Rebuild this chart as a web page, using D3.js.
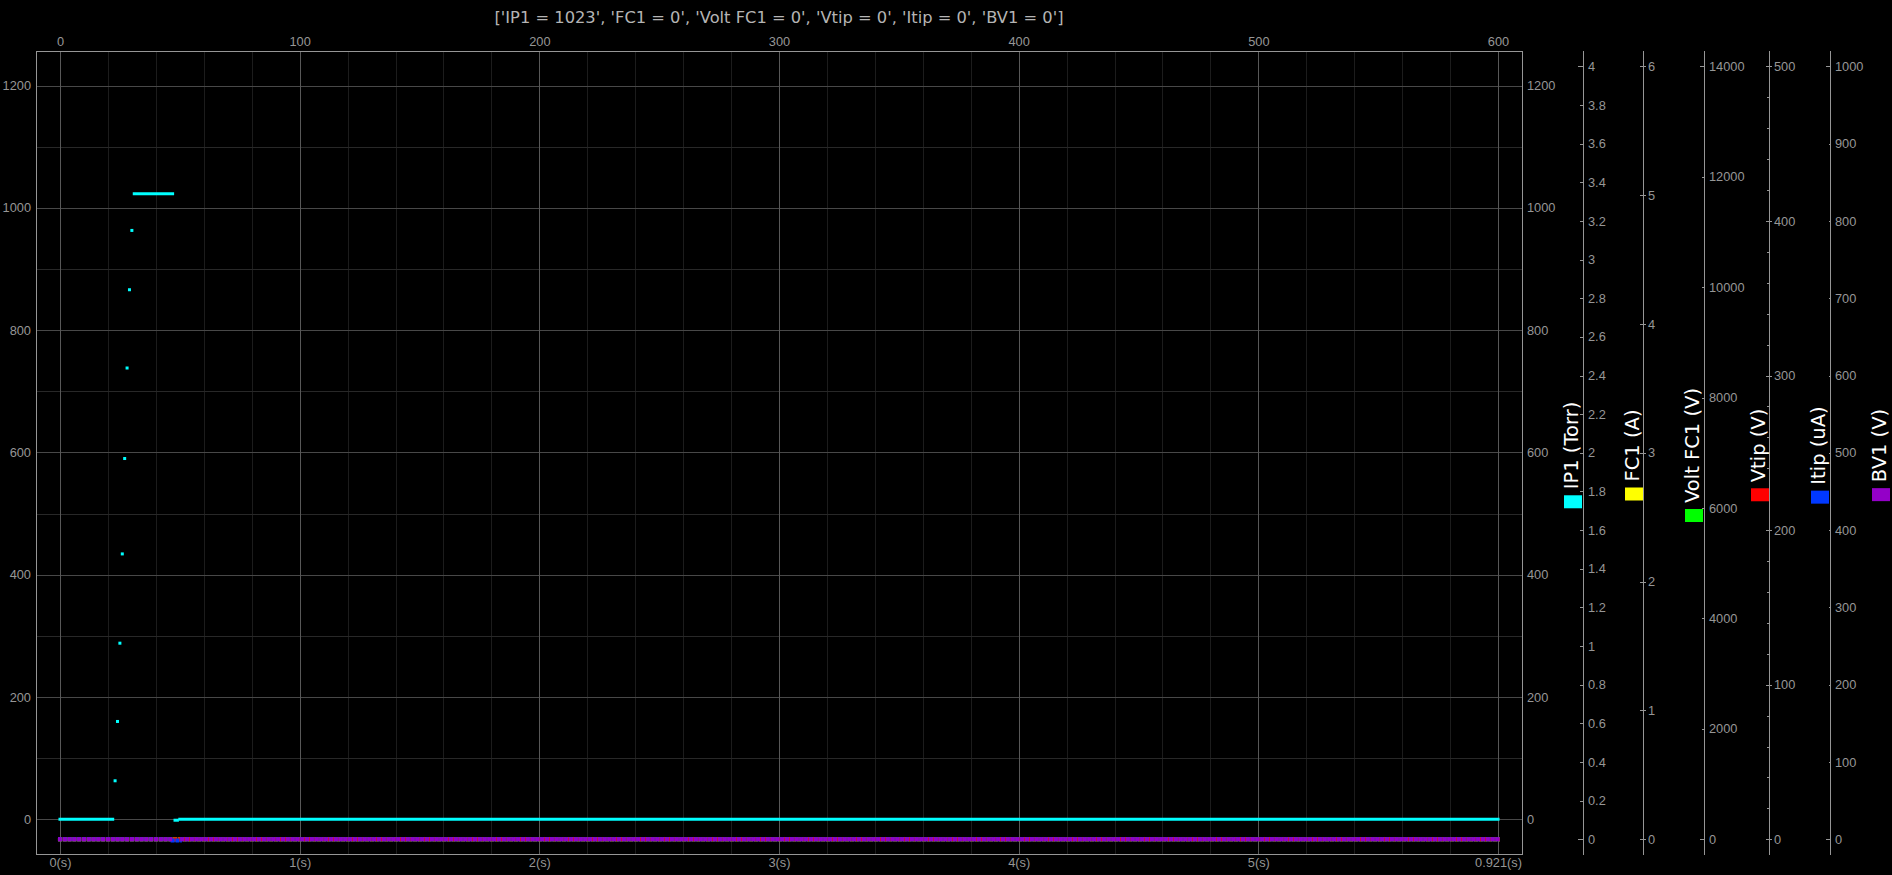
<!DOCTYPE html>
<html><head><meta charset="utf-8">
<script src="https://cdn.jsdelivr.net/npm/d3@7"></script>
<style>
html,body{margin:0;padding:0;background:#000;overflow:hidden}
svg{display:block}
</style></head><body>
<svg id="chart" width="1892" height="875"></svg>
<script>
// ---------------- data ----------------
const titleText = "['IP1 = 1023', 'FC1 = 0', 'Volt FC1 = 0', 'Vtip = 0', 'Itip = 0', 'BV1 = 0']";
const xTopTicks = [0, 100, 200, 300, 400, 500, 600];
const xBottomLabels = ["0(s)", "1(s)", "2(s)", "3(s)", "4(s)", "5(s)", "0.921(s)"];
const leftTicks = [0, 200, 400, 600, 800, 1000, 1200];

const seriesNames = ["IP1 (Torr)", "FC1 (A)", "Volt FC1 (V)", "Vtip (V)", "Itip (uA)", "BV1 (V)"];
const seriesColors = ["#00ffff", "#ffff00", "#00ff00", "#ff0000", "#0038ff", "#9400c8"];

// IP1: flat runs of samples (sample index from..to, value) and isolated samples
const ip1Runs = [
  {from: 0, to: 22, value: 0},
  {from: 31, to: 47, value: 1023},
  {from: 48, to: 49, value: -1.5},
  {from: 50, to: 600, value: 0}
];
const ip1PointX = [23, 24, 25, 26, 27, 28, 29, 30];
const ip1PointY = [63, 160, 288, 434, 590, 738, 866, 963];

const fc1Runs  = [{from: 0, to: 600, value: 0}];
const voltRuns = [{from: 0, to: 600, value: 0}];
const vtipRuns = [{from: 0, to: 600, value: 0}];
const itipRuns = [{from: 0, to: 46, value: 0}, {from: 47, to: 50, value: -0.8}, {from: 51, to: 600, value: 0}];
const bv1Runs  = [{from: 0, to: 46, value: 0}, {from: 51, to: 600, value: 0}];

// secondary axes (FC1, Volt FC1, Vtip, Itip, BV1)
const axis1Ticks = [0, 0.2, 0.4, 0.6, 0.8, 1, 1.2, 1.4, 1.6, 1.8, 2, 2.2, 2.4, 2.6, 2.8, 3, 3.2, 3.4, 3.6, 3.8, 4];
const axis2Ticks = [0, 1, 2, 3, 4, 5, 6];
const axis3Ticks = [0, 2000, 4000, 6000, 8000, 10000, 12000, 14000];
const axis4Ticks = [0, 100, 200, 300, 400, 500];
const axis5Ticks = [0, 100, 200, 300, 400, 500, 600, 700, 800, 900, 1000];
const axisMax = [4, 6, 14000, 500, 1000];

// ---------------- drawing ----------------
const W = 1892, H = 875;
const frame = {left: 36, right: 1522, top: 51, bottom: 854};
const fg = "#969696";
const tickFont = "'Liberation Sans', Arial, sans-serif";

const svg = d3.select("#chart");
svg.append("rect").attr("width", W).attr("height", H).attr("fill", "#000");

const x = d3.scaleLinear().domain([-10, 610]).range([frame.left, frame.right]);
const yL = d3.scaleLinear().domain([0, 1200]).range([819.3, 85.5]);

// grid
const grid = svg.append("g").attr("shape-rendering", "crispEdges");
const vMinor = d3.range(0, 601, 20).filter(v => v % 100 !== 0);
grid.selectAll(".vmin").data(vMinor).join("line")
  .attr("x1", d => Math.round(x(d)) + 0.5).attr("x2", d => Math.round(x(d)) + 0.5)
  .attr("y1", frame.top).attr("y2", frame.bottom)
  .attr("stroke", "#1c1c1c");
const hMinor = [100, 300, 500, 700, 900, 1100];
grid.selectAll(".hmin").data(hMinor).join("line")
  .attr("y1", d => Math.round(yL(d)) + 0.5).attr("y2", d => Math.round(yL(d)) + 0.5)
  .attr("x1", frame.left).attr("x2", frame.right)
  .attr("stroke", "#282828");
grid.selectAll(".hmaj").data(leftTicks).join("line")
  .attr("y1", d => Math.round(yL(d)) + 0.5).attr("y2", d => Math.round(yL(d)) + 0.5)
  .attr("x1", frame.left).attr("x2", frame.right)
  .attr("stroke", "#484848");
grid.selectAll(".vmaj").data(xTopTicks).join("line")
  .attr("x1", d => Math.round(x(d)) + 0.5).attr("x2", d => Math.round(x(d)) + 0.5)
  .attr("y1", frame.top).attr("y2", frame.bottom)
  .attr("stroke", "#585858");

// frame
svg.append("rect")
  .attr("x", frame.left + 0.5).attr("y", frame.top + 0.5)
  .attr("width", frame.right - frame.left).attr("height", frame.bottom - frame.top)
  .attr("fill", "none").attr("stroke", fg).attr("shape-rendering", "crispEdges");

function styleAxis(sel) {
  sel.select(".domain").remove();
  sel.selectAll("text").attr("fill", fg).style("font-family", tickFont).style("font-size", "12.8px");
  sel.selectAll(".tick line").attr("stroke", fg).attr("shape-rendering", "crispEdges");
}
const plainFmt = d => String(d);

// left / right axes of main plot
svg.append("g").attr("transform", `translate(${frame.left},0)`)
  .call(d3.axisLeft(yL).tickValues(leftTicks).tickSize(0).tickPadding(5).tickFormat(plainFmt)).call(styleAxis);
svg.append("g").attr("transform", `translate(${frame.right},0)`)
  .call(d3.axisRight(yL).tickValues(leftTicks).tickSize(0).tickPadding(5).tickFormat(plainFmt)).call(styleAxis);

// top axis
const topAx = svg.append("g").attr("transform", `translate(0,${frame.top})`)
  .call(d3.axisTop(x).tickValues(xTopTicks).tickSize(0).tickFormat(plainFmt)).call(styleAxis);
topAx.selectAll("text").attr("y", -9).attr("dy", "0.35em");

// bottom axis
const botAx = svg.append("g").attr("transform", `translate(0,${frame.bottom})`)
  .call(d3.axisBottom(x).tickValues(xTopTicks).tickSize(0).tickFormat((d, i) => xBottomLabels[i])).call(styleAxis);
botAx.selectAll("text").attr("y", 9).attr("dy", "0.35em");

// title
svg.append("text").attr("x", (frame.left + frame.right) / 2).attr("y", 17)
  .attr("text-anchor", "middle").attr("dy", "0.35em")
  .attr("fill", "#b4b4b4")
  .style("font-family", "'DejaVu Sans', sans-serif").style("font-size", "16.3px")
  .text(titleText);

// secondary axes
const axisX = [1583.5, 1643.5, 1704.5, 1769.5, 1830.5];
const axisTicksAll = [axis1Ticks, axis2Ticks, axis3Ticks, axis4Ticks, axis5Ticks];
const secScales = axisMax.map(m => d3.scaleLinear().domain([0, m]).range([839.3, 66.3]));
const tickLen = [3.5, 3.5, 3, 4, 2];
const endTickLen = [6, 3.5, 5, 4, 5];
secScales.forEach((s, i) => {
  const ax = svg.append("g").attr("transform", `translate(${axisX[i]},0)`);
  ax.append("line").attr("x1", 0).attr("x2", 0).attr("y1", frame.top).attr("y2", frame.bottom + 1)
    .attr("stroke", fg).attr("shape-rendering", "crispEdges");
  if (i === 3) {
    const minorTicks = d3.range(0, 501, 20).filter(v => v % 100 !== 0);
    ax.append("g").call(d3.axisRight(s).tickValues(minorTicks).tickSize(-2.5).tickFormat("")).call(styleAxis);
  }
  const g = ax.append("g")
    .call(d3.axisRight(s).tickValues(axisTicksAll[i]).tickSize(-tickLen[i]).tickPadding(4.5).tickFormat(plainFmt))
    .call(styleAxis);
  const ticks = axisTicksAll[i];
  g.selectAll(".tick line").attr("x2", d => (d === 0 || d === ticks[ticks.length - 1]) ? -endTickLen[i] : -tickLen[i]);
  if (i === 1 || i === 3) g.selectAll(".tick line").attr("x1", 2.5);
  g.selectAll("text").attr("x", 4.5);
});

// series lines (flat runs), drawn as marker bands
const mainLayer = svg.append("g");
function drawRuns(runs, scale, color, width, dash) {
  mainLayer.append("g").selectAll("line").data(runs).join("line")
    .attr("x1", d => x(d.from) - width / 2)
    .attr("x2", d => x(d.to) + width / 2)
    .attr("y1", d => scale(d.value)).attr("y2", d => scale(d.value))
    .attr("stroke", color).attr("stroke-width", width)
    .attr("stroke-dasharray", dash || null);
}
drawRuns(fc1Runs, secScales[0], seriesColors[1], 4, "4,0.8");
drawRuns(voltRuns, secScales[1], seriesColors[2], 4, "4,0.8");
drawRuns(vtipRuns, secScales[2], seriesColors[3], 4, "4,0.8");
drawRuns(itipRuns, secScales[3], seriesColors[4], 4, "4,0.8");
drawRuns(bv1Runs, secScales[4], seriesColors[5], 4, "4,0.8");
drawRuns(ip1Runs, yL, seriesColors[0], 3, null);

mainLayer.append("g").selectAll("rect").data(ip1PointX).join("rect")
  .attr("x", (d) => x(d) - 1.5)
  .attr("y", (d, i) => yL(ip1PointY[i]) - 1.5)
  .attr("width", 3).attr("height", 3)
  .attr("fill", seriesColors[0]);

// legend labels (rotated)
const legendRight = [1582, 1643, 1703, 1769, 1829, 1890];
const legendCenterY = 455;
seriesNames.forEach((name, i) => {
  const g = svg.append("g");
  const t = g.append("text")
    .attr("fill", "#ffffff")
    .style("font-family", "'DejaVu Sans', sans-serif").style("font-size", "19.5px")
    .text(name);
  const len = t.node().getComputedTextLength();
  const sw = 13, gap = 6;
  const total = sw + gap + len;
  const bottom = legendCenterY + total / 2;
  g.append("rect")
    .attr("x", legendRight[i] - 18).attr("y", bottom - sw)
    .attr("width", 18).attr("height", sw)
    .attr("fill", seriesColors[i]);
  t.attr("transform", `translate(${legendRight[i] - 4.5},${bottom - sw - gap}) rotate(-90)`);
});
</script>
</body></html>
